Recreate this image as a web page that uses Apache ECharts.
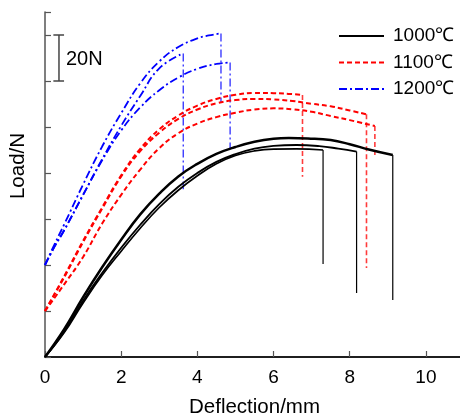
<!DOCTYPE html>
<html><head><meta charset="utf-8">
<script src="https://cdn.jsdelivr.net/npm/echarts@6/dist/echarts.min.js"></script>
<style>html,body{margin:0;padding:0;background:#fff}#c{width:460px;height:417px}</style>
</head><body><div id="c"></div><script>
// ---- data (Deflection/mm, Load/N; curve groups are offset by 0/20/40 N) ----
const xTicks = [0, 2, 4, 6, 8, 10];
const legendNames = ['1000℃', '1100℃', '1200℃'];

const blackA_x = [0,0.5,1.0,1.5,2.0,2.5,3.0,3.5,4.0,4.5,5.0,5.5,6.0,6.4,6.9,7.5,8.0,8.5,9.13];
const blackA_y = [0,12,26,39,51,62,71,78.5,84,88.3,91.3,93.6,94.9,95.2,95.0,94.3,92.5,90.2,87.8];
const blackA_drop = 24.8;

const blackB_x = [0,0.5,1.0,1.5,2.0,2.5,3.0,3.5,4.0,4.5,5.0,5.5,6.0,6.6,7.2,7.7,8.18];
const blackB_y = [0,11,24.5,36.5,47.5,57.5,66.5,74,80,84.8,88.2,90.6,91.8,92.2,91.7,90.6,89.3];
const blackB_drop = 27.8;

const blackC_x = [0,0.5,1.0,1.5,2.0,2.5,3.0,3.5,4.0,4.5,5.0,5.5,6.0,6.6,7.3];
const blackC_y = [0,10.5,23.5,35.5,46,56,65,72.5,78.8,84,87.6,89.6,90.4,90.5,90.0];
const blackC_drop = 40.4;

const redA_x = [0,0.5,1.0,1.5,2.0,2.5,3.0,3.5,4.0,4.5,5.0,5.5,6.0,6.4,6.76];
const redA_y = [20,35,50.5,65,79,90.5,99,105,109.3,112.2,114,114.8,114.7,114.4,113.9];
const redA_drop = 78.4;

const redB_x = [0,0.5,1.0,1.5,2.0,2.5,3.0,3.5,4.0,4.5,5.0,5.5,6.0,6.5,7.0,7.5,8.0,8.44];
const redB_y = [20,34.5,50,64.5,78.5,89.5,97.5,103.5,107.6,110.3,111.7,112.2,112.0,111.3,110.1,109,107.2,105.5];
const redB_drop = 38.7;

const redC_x = [0,0.5,1.0,1.5,2.0,2.5,3.0,3.5,4.0,4.5,5.0,5.5,6.0,6.5,7.0,7.5,8.0,8.66];
const redC_y = [20,31.5,43.5,58,70.5,81.5,90.8,97.3,101.5,104.3,106.2,107.6,108.1,107.7,106.6,104.8,103.0,100.4];
const redC_drop = 87;

const blueA_x = [0,0.25,0.5,1.0,1.5,2.0,2.5,3.0,3.5,4.0,4.3,4.62];
const blueA_y = [40,49,57.5,75,91.5,106,119,128.5,134.8,138.5,139.8,140.7];
const blueA_drop = 110.4;

const blueB_x = [0,0.25,0.5,1.0,1.5,2.0,2.5,3.0,3.63];
const blueB_y = [40,48,55,70.5,86,100.5,113.5,125.5,132];
const blueB_drop = 72.9;

const blueC_x = [0,0.25,0.5,1.0,1.5,2.0,2.5,3.0,3.5,4.0,4.5,4.86];
const blueC_y = [40,48,55,70.5,85.5,98.5,108.5,116,121.5,125.3,127.4,128];
const blueC_drop = 90.9;

// scale bar: 20 N
const scaleBarX = 0.367;
const scaleBarCapX = [0.22, 0.5];
const scaleBarY = [120, 140];

// ---- build ----
const FONT = 'Liberation Sans, Arial, Helvetica, sans-serif';
const zip = (xs, ys) => xs.map((x, i) => [x, ys[i]]);

function curve(name, xs, ys, drop, color, type, width, dropWidth, dropColor) {
  const last = xs.length - 1;
  return [
    { name, type: 'line', data: zip(xs, ys), showSymbol: false, symbol: 'none', smooth: 0.45,
      lineStyle: { color, type, width }, itemStyle: { color }, z: 3, silent: true },
    { name, type: 'line', data: [[xs[last], ys[last]], [xs[last], drop]], showSymbol: false, symbol: 'none',
      lineStyle: { color: dropColor || color, type, width: dropWidth }, itemStyle: { color }, z: 2, silent: true }
  ];
}

const RED = '#ff0000', BLUE = '#0000ff';
const dashRed = [5, 3];
const dashBlue = [8, 3, 2, 3];

const series = [].concat(
  curve(legendNames[0], blackA_x, blackA_y, blackA_drop, '#000', 'solid', 2.5, 1.2),
  curve(legendNames[0], blackB_x, blackB_y, blackB_drop, '#000', 'solid', 1.9, 1.2),
  curve(legendNames[0], blackC_x, blackC_y, blackC_drop, '#000', 'solid', 1.7, 1.2),
  curve(legendNames[1], redA_x, redA_y, redA_drop, RED, dashRed, 2, 1.6, '#ff3b3b'),
  curve(legendNames[1], redB_x, redB_y, redB_drop, RED, dashRed, 2, 1.6, '#ff3b3b'),
  curve(legendNames[1], redC_x, redC_y, redC_drop, RED, dashRed, 2, 1.6, '#ff3b3b'),
  curve(legendNames[2], blueA_x, blueA_y, blueA_drop, BLUE, dashBlue, 1.8, 1.4, '#3b3bff'),
  curve(legendNames[2], blueB_x, blueB_y, blueB_drop, BLUE, dashBlue, 1.8, 1.4, '#3b3bff'),
  curve(legendNames[2], blueC_x, blueC_y, blueC_drop, BLUE, dashBlue, 1.8, 1.4, '#3b3bff')
);
// scale bar pieces
[[[scaleBarCapX[0], scaleBarY[1]], [scaleBarCapX[1], scaleBarY[1]]],
 [[scaleBarX, scaleBarY[0]], [scaleBarX, scaleBarY[1]]],
 [[scaleBarCapX[0], scaleBarY[0]], [scaleBarCapX[1], scaleBarY[0]]]].forEach(d => {
  series.push({ name: 'scale', type: 'line', data: d, symbol: 'none', silent: true,
    lineStyle: { color: '#444', width: 1.5 } });
});

const chart = echarts.init(document.getElementById('c'), null, { renderer: 'canvas' });
chart.setOption({
  animation: false,
  backgroundColor: '#fff',
  textStyle: { fontFamily: FONT },
  grid: { left: 45, top: 12, right: -4, bottom: 60, containLabel: false, outerBoundsMode: 'none' },
  legend: {
    data: legendNames, orient: 'vertical', left: 338, top: 26, padding: 0,
    itemWidth: 45, itemHeight: 14, itemGap: 6.5,
    itemStyle: { opacity: 0 },
    textStyle: { fontFamily: FONT, fontSize: 19, color: '#000', lineHeight: 20, padding: [0, 0, 0, 4] },
    selectedMode: false
  },
  xAxis: [{
    type: 'value', min: 0, max: 11, interval: 2,
    name: 'Deflection/mm', nameLocation: 'middle', nameGap: 40,
    nameTextStyle: { fontFamily: FONT, fontSize: 20.5, color: '#000' },
    axisLine: { show: true, onZero: false, lineStyle: { color: '#555', width: 1.5 } },
    axisTick: { show: true, inside: true, length: 6, lineStyle: { color: '#555', width: 1.2 } },
    axisLabel: { fontFamily: FONT, fontSize: 19, color: '#000', margin: 11, showMaxLabel: false,
      formatter: v => (xTicks.indexOf(v) >= 0 ? String(v) : '') },
    splitLine: { show: false }
  }, {
    type: 'value', min: 0, max: 11, position: 'top',
    axisLine: { show: true, lineStyle: { color: '#000', width: 1.5 } },
    axisTick: { show: false }, axisLabel: { show: false }, splitLine: { show: false }
  }],
  yAxis: {
    type: 'value', min: 0, max: 150, interval: 20,
    axisLine: { show: true, onZero: false, lineStyle: { color: '#555', width: 1.5 } },
    axisTick: { show: true, inside: true, length: 6, lineStyle: { color: '#555', width: 1.2 } },
    axisLabel: { show: false },
    splitLine: { show: false }
  },
  graphic: [
    { type: 'text', x: 18, y: 166, rotation: Math.PI / 2,
      style: { text: 'Load/N', fontFamily: FONT, fontSize: 20.5, fill: '#000', align: 'center', verticalAlign: 'middle' } },
    { type: 'text', x: 66, y: 59,
      style: { text: '20N', fontFamily: FONT, fontSize: 20, fill: '#000', align: 'left', verticalAlign: 'middle' } }
  ],
  series
});
</script></body></html>
